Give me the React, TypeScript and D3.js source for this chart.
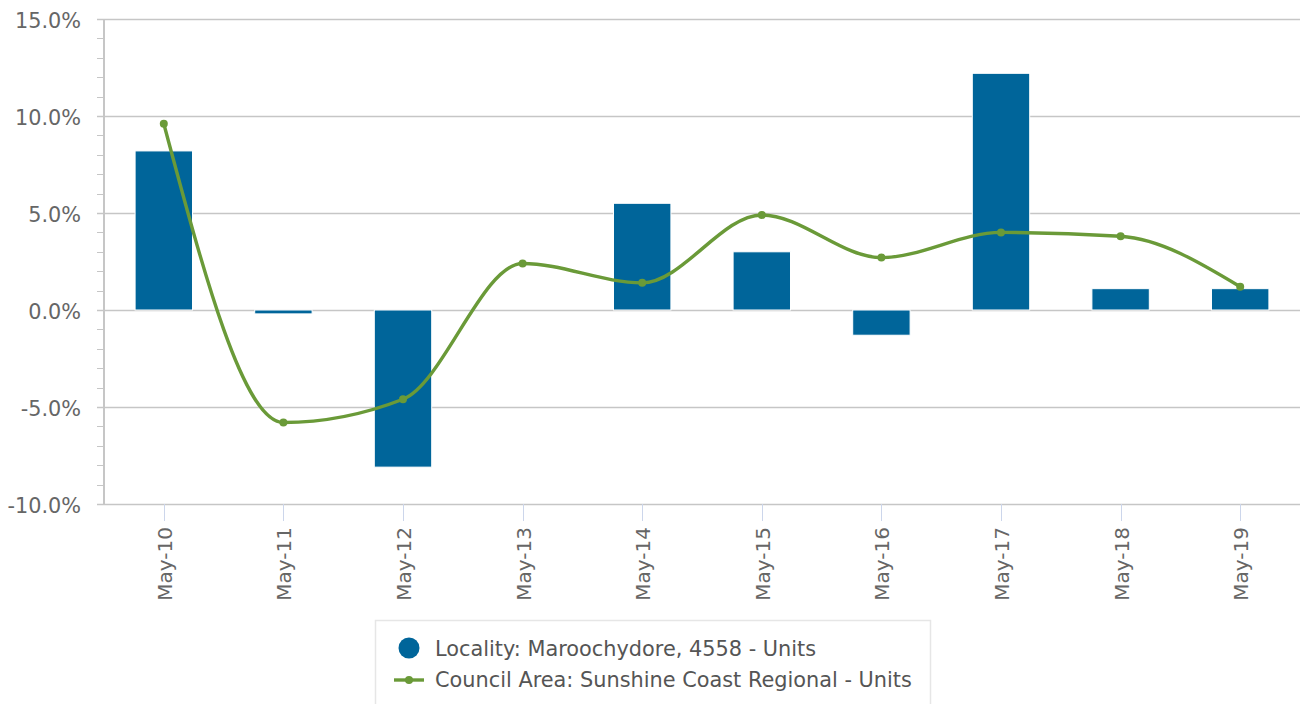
import React, { useRef, useEffect } from "react";
import * as d3 from "d3";

// chart data
const categories = [
  "May-10", "May-11", "May-12", "May-13", "May-14",
  "May-15", "May-16", "May-17", "May-18", "May-19",
];
const localityUnits: (number | null)[] = [8.2, -0.2, -8.1, null, 5.5, 3.0, -1.3, 12.2, 1.1, 1.1];
const councilUnits = [9.6, -5.8, -4.6, 2.4, 1.4, 4.9, 2.7, 4.0, 3.8, 1.2];
const yTickValues = [-10, -5, 0, 5, 10, 15];
const legendLabels = [
  "Locality: Maroochydore, 4558 - Units",
  "Council Area: Sunshine Coast Regional - Units",
];

const BAR_COLOR = "#00659a";
const LINE_COLOR = "#6a9a38";
const GRID_COLOR = "#c6c6c6";
const FONT = "'DejaVu Sans', Verdana, sans-serif";

const App = () => {
  const svgRef = useRef<SVGSVGElement>(null);

  useEffect(() => {
    const width = 1300;
    const height = 704;
    const plot = { left: 104, right: 1300, top: 19, bottom: 504 };

    const svg = d3
      .select(svgRef.current)
      .attr("width", width)
      .attr("height", height);

    svg.selectAll("*").remove();

    const x = d3
      .scaleBand()
      .domain(categories)
      .range([plot.left, plot.right])
      .paddingInner(0.52)
      .paddingOuter(0.26);

    const y = d3
      .scaleLinear()
      .domain([-10, 15])
      .range([plot.bottom, plot.top]);

    const cx = (c: string) => (x(c) as number) + x.bandwidth() / 2;

    // gridlines
    svg
      .append("g")
      .selectAll("line")
      .data(yTickValues)
      .join("line")
      .attr("x1", plot.left - 7)
      .attr("x2", plot.right)
      .attr("y1", (d) => Math.round(y(d)) + 0.5)
      .attr("y2", (d) => Math.round(y(d)) + 0.5)
      .attr("stroke", GRID_COLOR)
      .attr("stroke-width", 1.3);

    // minor ticks on y axis
    svg
      .append("g")
      .selectAll("line")
      .data(d3.range(-10, 15.01, 1))
      .join("line")
      .attr("x1", plot.left - 7)
      .attr("x2", plot.left)
      .attr("y1", (d) => Math.round(y(d)) + 0.5)
      .attr("y2", (d) => Math.round(y(d)) + 0.5)
      .attr("stroke", GRID_COLOR)
      .attr("stroke-width", 1);

    // y axis line
    svg
      .append("line")
      .attr("x1", plot.left)
      .attr("x2", plot.left)
      .attr("y1", plot.top)
      .attr("y2", plot.bottom)
      .attr("stroke", GRID_COLOR)
      .attr("stroke-width", 2);

    // y labels
    svg
      .append("g")
      .selectAll("text")
      .data(yTickValues)
      .join("text")
      .attr("x", 81)
      .attr("y", (d) => y(d) + 8.5)
      .attr("text-anchor", "end")
      .attr("font-family", FONT)
      .attr("font-size", 20.8)
      .attr("fill", "#666666")
      .text((d) => `${d.toFixed(1)}%`);

    // x ticks + labels
    svg
      .append("g")
      .selectAll("line")
      .data(categories)
      .join("line")
      .attr("x1", (d) => Math.round(cx(d)) + 0.5)
      .attr("x2", (d) => Math.round(cx(d)) + 0.5)
      .attr("y1", plot.bottom)
      .attr("y2", plot.bottom + 17)
      .attr("stroke", "#ccd6eb")
      .attr("stroke-width", 1);

    svg
      .append("g")
      .selectAll("text")
      .data(categories)
      .join("text")
      .attr("transform", (d) => `translate(${cx(d)},527) rotate(-90)`)
      .attr("y", 8)
      .attr("text-anchor", "end")
      .attr("font-family", FONT)
      .attr("font-size", 20)
      .attr("fill", "#666666")
      .text((d) => d);

    // bars
    const barData = categories
      .map((c, i) => ({ c, v: localityUnits[i] }))
      .filter((d) => d.v !== null) as { c: string; v: number }[];

    svg
      .append("g")
      .selectAll("rect")
      .data(barData)
      .join("rect")
      .attr("x", (d) => x(d.c) as number)
      .attr("y", (d) => y(Math.max(d.v, 0)))
      .attr("width", x.bandwidth())
      .attr("height", (d) => Math.abs(y(d.v) - y(0)))
      .attr("fill", BAR_COLOR)
      .attr("stroke", "#ffffff")
      .attr("stroke-width", 1);

    // line series
    const lineData = categories.map((c, i) => ({ c, v: councilUnits[i] }));
    const line = d3
      .line<{ c: string; v: number }>()
      .x((d) => cx(d.c))
      .y((d) => y(d.v))
      .curve(d3.curveMonotoneX);

    svg
      .append("path")
      .datum(lineData)
      .attr("d", line)
      .attr("fill", "none")
      .attr("stroke", LINE_COLOR)
      .attr("stroke-width", 3.4)
      .attr("stroke-linejoin", "round");

    svg
      .append("g")
      .selectAll("circle")
      .data(lineData)
      .join("circle")
      .attr("cx", (d) => cx(d.c))
      .attr("cy", (d) => y(d.v))
      .attr("r", 4)
      .attr("fill", LINE_COLOR);

    // legend
    const legend = svg.append("g");
    legend
      .append("rect")
      .attr("x", 375.5)
      .attr("y", 620.5)
      .attr("width", 555)
      .attr("height", 110)
      .attr("fill", "#ffffff")
      .attr("stroke", "#e6e6e6")
      .attr("stroke-width", 1.5);

    legend
      .append("circle")
      .attr("cx", 409)
      .attr("cy", 648)
      .attr("r", 10.5)
      .attr("fill", BAR_COLOR);

    legend
      .append("line")
      .attr("x1", 394)
      .attr("x2", 424)
      .attr("y1", 680)
      .attr("y2", 680)
      .attr("stroke", LINE_COLOR)
      .attr("stroke-width", 3.4);

    legend
      .append("circle")
      .attr("cx", 409)
      .attr("cy", 680)
      .attr("r", 4)
      .attr("fill", LINE_COLOR);

    legend
      .selectAll("text")
      .data(legendLabels)
      .join("text")
      .attr("x", 435)
      .attr("y", (d, i) => 655.5 + i * 31)
      .attr("font-family", FONT)
      .attr("font-size", 20.85)
      .attr("fill", "#555555")
      .text((d) => d);
  }, []);

  return (
    <svg
      ref={svgRef}
      style={{ position: "absolute", left: 0, top: 0, display: "block" }}
    ></svg>
  );
};

export default App;
